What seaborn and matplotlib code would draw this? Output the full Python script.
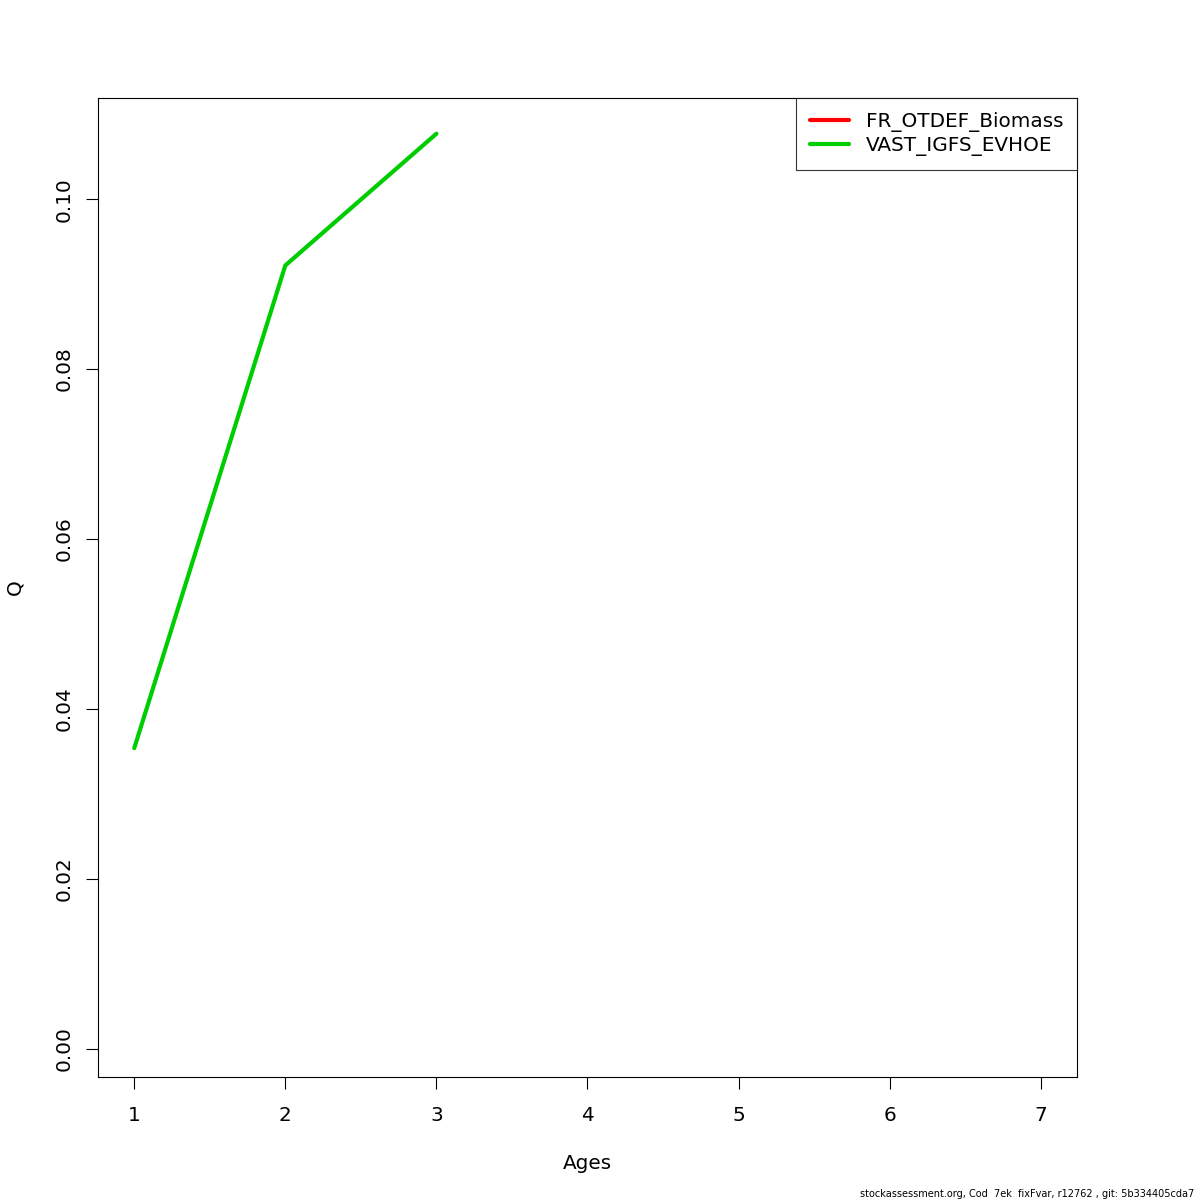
import numpy as np
import pandas as pd
import seaborn as sns
import matplotlib.pyplot as plt
from matplotlib.lines import Line2D

# Catchability (Q) by age for each survey fleet
ages = [1, 2, 3, 4, 5, 6, 7]
fleets = ['FR_OTDEF_Biomass', 'VAST_IGFS_EVHOE']
q_fr = [np.nan, np.nan, np.nan, np.nan, np.nan, np.nan, np.nan]
q_vast = [0.0354, 0.0922, 0.1077, np.nan, np.nan, np.nan, np.nan]
colors = ['#FF0000', '#00CD00']
footer = 'stockassessment.org, Cod  7ek  fixFvar, r12762 , git: 5b334405cda7'

df = pd.DataFrame({
    'age': ages * 2,
    'Q': q_fr + q_vast,
    'fleet': [fleets[0]] * len(ages) + [fleets[1]] * len(ages),
})

sns.set_style('ticks')
plt.rcParams['font.family'] = ['DejaVu Sans']
plt.rcParams['text.color'] = 'black'
plt.rcParams['axes.labelcolor'] = 'black'
plt.rcParams['xtick.color'] = 'black'
plt.rcParams['ytick.color'] = 'black'

fs = 14.4

fig = plt.figure(figsize=(12, 12), dpi=100)
ax = fig.add_axes([98 / 1200, 1 - 1077 / 1200, 979 / 1200, 979 / 1200])

sns.lineplot(data=df.dropna(), x='age', y='Q', hue='fleet', hue_order=fleets,
             palette=dict(zip(fleets, colors)), linewidth=3, ax=ax, legend=False)

# R-style axis range on x (4% padding), y range as in the original device
xr = max(ages) - min(ages)
ax.set_xlim(min(ages) - 0.04 * xr, max(ages) + 0.04 * xr)
ax.set_ylim(-0.0033, 0.1119)

ax.set_xticks(ages)
ax.set_yticks([0.0, 0.02, 0.04, 0.06, 0.08, 0.10])
ax.set_yticklabels(['0.00', '0.02', '0.04', '0.06', '0.08', '0.10'], rotation=90, va='center')
ax.tick_params(axis='both', direction='out', length=8.6, width=0.8, labelsize=fs)
ax.tick_params(axis='x', pad=12)
ax.tick_params(axis='y', pad=9)
for s in ax.spines.values():
    s.set_linewidth(0.8)
    s.set_color('black')

ax.set_xlabel('Ages', fontsize=fs, labelpad=21)
ax.set_ylabel('Q', fontsize=fs, labelpad=22)

handles = [Line2D([0], [0], color=c, lw=3) for c in colors]
leg = ax.legend(handles, fleets, loc='upper right', bbox_to_anchor=(1, 1),
                borderaxespad=0, fontsize=fs, frameon=True, fancybox=False,
                handlelength=1.95, handletextpad=0.85, borderpad=0.7, labelspacing=0.22)
leg.get_frame().set_edgecolor('black')
leg.get_frame().set_linewidth(0.8)

fig.text(1194 / 1200, 1 - 1194 / 1200, footer, ha='right', va='center', fontsize=7)

fig.savefig('out.png', dpi=100, facecolor='white')
